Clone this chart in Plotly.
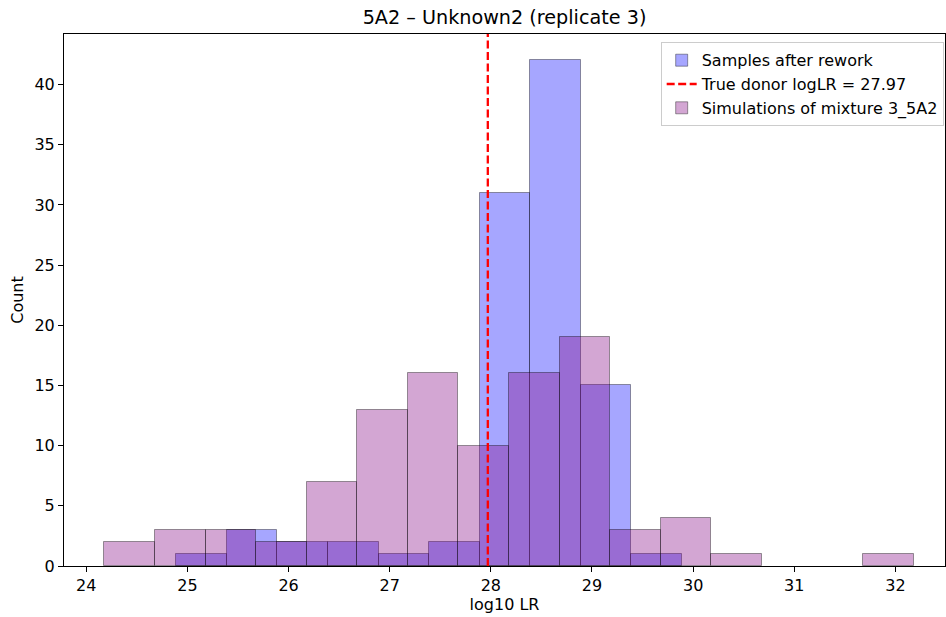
import plotly.graph_objects as go

# Data
bin_width = 0.5
rework_start = 24.89
rework_counts = [1, 3, 2, 2, 1, 2, 31, 42, 15, 1]
sim_start = 24.18
sim_counts = [2, 3, 3, 2, 7, 13, 16, 10, 16, 19, 3, 4, 1, 0, 0, 1]
true_donor = 27.97
x_ticks = [24, 25, 26, 27, 28, 29, 30, 31, 32]
y_ticks = [0, 5, 10, 15, 20, 25, 30, 35, 40]
x_range = [23.78, 32.49]
y_range = [0, 44.2]


def bars(start, counts):
    xs, ys = [], []
    for i, c in enumerate(counts):
        if c > 0:  # empty bins draw nothing (like matplotlib hist)
            xs.append(start + bin_width * (i + 0.5))
            ys.append(c)
    return xs, ys


rework_x, rework_y = bars(rework_start, rework_counts)
sim_x, sim_y = bars(sim_start, sim_counts)

font = "DejaVu Sans"
fs = 16
fig = go.Figure()
fig.add_trace(go.Bar(
    x=rework_x, y=rework_y, width=bin_width,
    name="Samples after rework",
    marker=dict(color="rgba(0,0,255,0.35)", line=dict(color="rgba(0,0,0,0.38)", width=1)),
    legendrank=1,
))
fig.add_trace(go.Bar(
    x=sim_x, y=sim_y, width=bin_width,
    name="Simulations of mixture 3_5A2",
    marker=dict(color="rgba(128,0,128,0.35)", line=dict(color="rgba(0,0,0,0.38)", width=1)),
    legendrank=3,
))
fig.add_trace(go.Scatter(
    x=[true_donor, true_donor], y=y_range, mode="lines",
    name=f"True donor logLR = {true_donor:.2f}",
    line=dict(color="red", width=2.3, dash="8px,3.5px"),
    legendrank=2,
))

fig.update_layout(
    width=946, height=617,
    margin=dict(l=64, r=1, t=34, b=51),
    barmode="overlay", bargap=0,
    plot_bgcolor="white", paper_bgcolor="white",
    font=dict(family=font, size=fs, color="black"),
    title=dict(text="5A2 – Unknown2 (replicate 3)", x=(64 + 945) / 2 / 946, xanchor="center",
               y=1 - 17 / 617, yanchor="middle", font=dict(size=19.2)),
    legend=dict(x=0.9985, y=0.9844, xanchor="right", yanchor="top",
                bordercolor="#cccccc", borderwidth=1, bgcolor="rgba(255,255,255,0.8)",
                font=dict(size=fs), tracegroupgap=0),
    showlegend=True,
)
fig.update_xaxes(range=x_range, tickvals=x_ticks, ticks="outside", ticklen=5, tickcolor="black",
                 showline=True, linecolor="black", linewidth=1, mirror=True, showgrid=False,
                 zeroline=False, tickfont=dict(size=fs), automargin=False,
                 title=dict(text="log10 LR", standoff=4, font=dict(size=fs)))
fig.update_yaxes(range=y_range, tickvals=y_ticks, ticks="outside", ticklen=5, tickcolor="black",
                 showline=True, linecolor="black", linewidth=1, mirror=True, showgrid=False,
                 zeroline=False, tickfont=dict(size=fs), automargin=False,
                 title=dict(text="Count", standoff=6, font=dict(size=fs)))

fig.write_html("out.html")
